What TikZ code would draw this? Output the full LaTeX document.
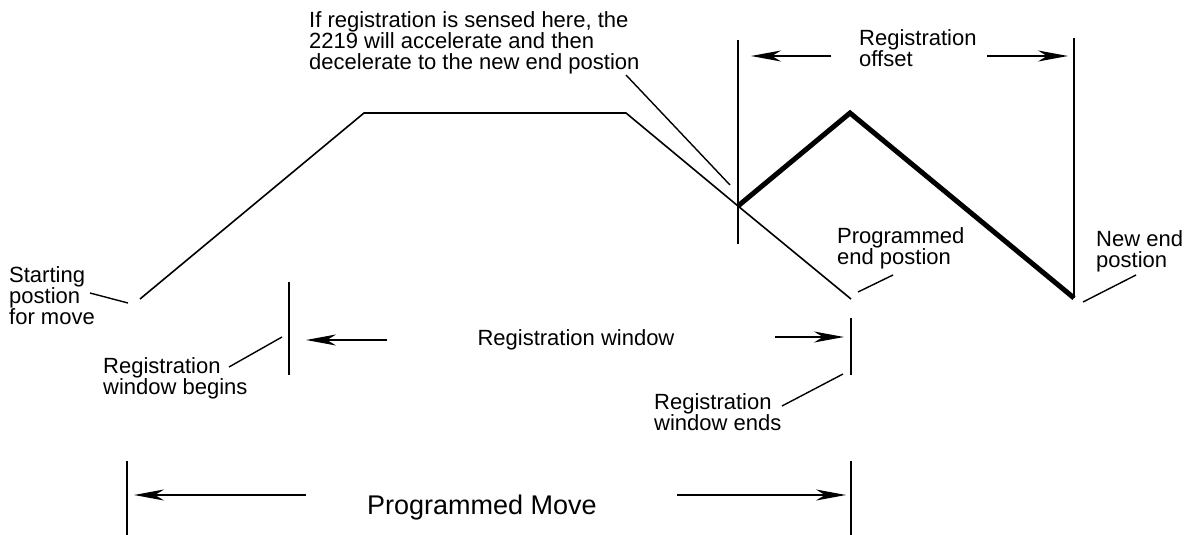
\documentclass[tikz,border=0pt]{standalone}
\usepackage{fontspec}
\setmainfont{Liberation Sans}
\usetikzlibrary{arrows.meta}
\begin{document}
\begin{tikzpicture}[x=1pt,y=-1pt,
  lbl/.style={font=\fontsize{22}{21}\selectfont, align=left, inner sep=0pt, anchor=north west},
  big/.style={font=\fontsize{27}{30}\selectfont, inner sep=0pt, anchor=base},
  thinl/.style={line width=1.4pt},
  prof/.style={line width=1.6pt},
  bold/.style={line width=5pt, line join=miter},
  dimline/.style={line width=2pt},
  arr/.style={line width=2pt, -{Stealth[length=30pt,width=11pt,inset=9pt]}}]
\useasboundingbox (0,0) rectangle (1192,535);
% profile points
\coordinate (p0) at (140,299);
\coordinate (p1) at (364,113);
\coordinate (p2) at (626,113);
\coordinate (pr) at (738,206);
\coordinate (pe) at (851,299);
\coordinate (pk) at (850,113);
\coordinate (pn) at (1074,298);
\draw[prof] (p0) -- (p1) -- (p2) -- (pr) -- (pe);
\draw[bold] (pr) -- (pk) -- (pn);
% vertical limit lines
\coordinate (v1a) at (738,40);   \coordinate (v1b) at (738,244);
\coordinate (v2a) at (1074,38);  \coordinate (v2b) at (1074,298);
\coordinate (v3a) at (289,282);  \coordinate (v3b) at (289,375);
\coordinate (v4a) at (851,318);  \coordinate (v4b) at (851,375);
\coordinate (v5a) at (127,461);  \coordinate (v5b) at (127,535);
\coordinate (v6a) at (851,461);  \coordinate (v6b) at (851,535);
\foreach \v in {v1,v2,v3,v4,v5,v6} \draw[dimline] (\v a) -- (\v b);
% arrows
\coordinate (a1s) at (831,56);  \coordinate (a1e) at (751,56);
\coordinate (a2s) at (987,56);  \coordinate (a2e) at (1068,56);
\coordinate (a3s) at (387,340); \coordinate (a3e) at (306,340);
\coordinate (a4s) at (775,337); \coordinate (a4e) at (844,337);
\coordinate (a5s) at (306,495); \coordinate (a5e) at (134,495);
\coordinate (a6s) at (677,495); \coordinate (a6e) at (846,495);
\foreach \a in {a1,a2,a3,a4,a5,a6} \draw[arr] (\a s) -- (\a e);
% labels
\node[lbl] (note) at (309,11) {If registration is sensed here, the\\2219 will accelerate and then\\decelerate to the new end postion};
\node[lbl] (off) at (859,29) {Registration\\offset};
\node[lbl] (start) at (9,266) {Starting\\postion\\for move};
\node[lbl] (rwb) at (103,357) {Registration\\window begins};
\node[lbl, anchor=base] (rw) at (576,345) {Registration window};
\node[lbl] (rwe) at (654,393) {Registration\\window ends};
\node[lbl] (ped) at (837,227) {Programmed\\end postion};
\node[lbl] (ned) at (1096,230) {New end\\postion};
\node[big] (pm) at (482,514) {Programmed Move};
% leader lines
\coordinate (l1a) at (626,75);   \coordinate (l1b) at (730,185);
\coordinate (l2a) at (90,293);   \coordinate (l2b) at (128,303);
\coordinate (l3a) at (229,367);  \coordinate (l3b) at (282,337);
\coordinate (l4a) at (782,406);  \coordinate (l4b) at (843,374);
\coordinate (l5a) at (858,292);  \coordinate (l5b) at (893,275);
\coordinate (l6a) at (1083,302); \coordinate (l6b) at (1136,275);
\foreach \l in {l1,l2,l3,l4,l5,l6} \draw[thinl] (\l a) -- (\l b);
\end{tikzpicture}
\end{document}
